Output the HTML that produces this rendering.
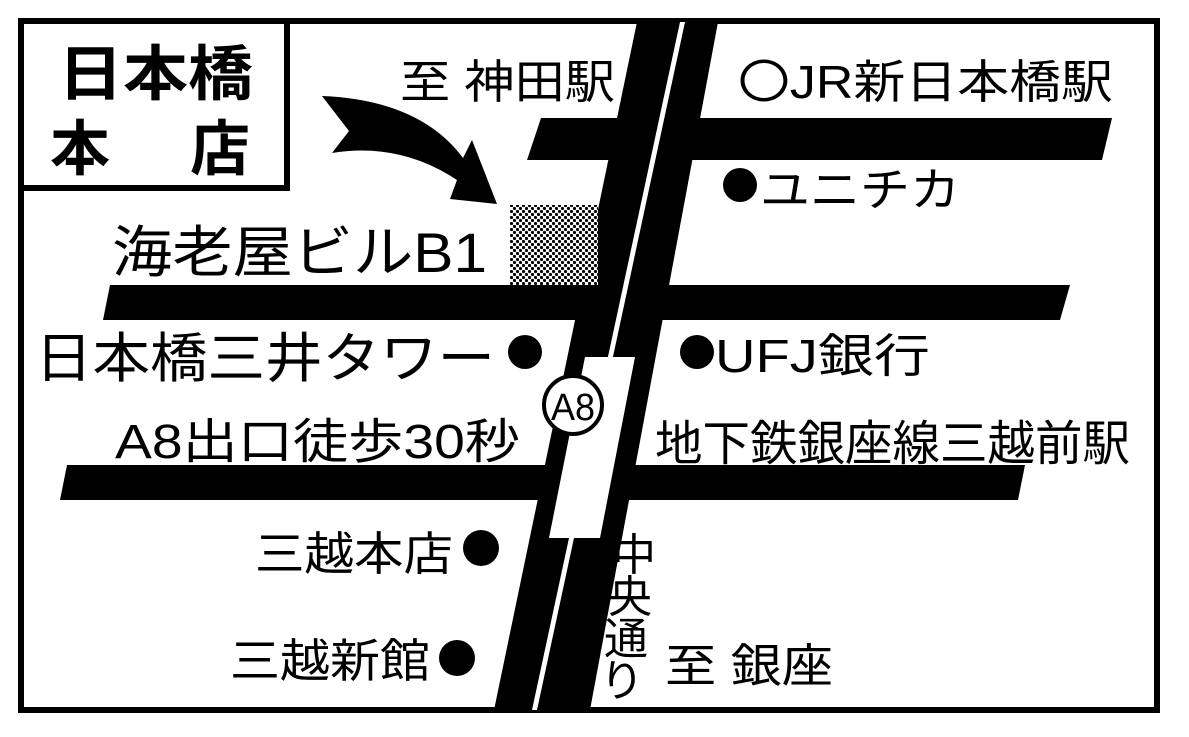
<!DOCTYPE html>
<html><head><meta charset="utf-8"><style>
html,body{margin:0;padding:0;background:#fff;}
svg{display:block;}
text{font-family:"Liberation Sans","Noto Sans CJK JP",sans-serif;fill:#000;}
</style></head><body>
<svg width="1189" height="737" viewBox="0 0 1189 737" xmlns="http://www.w3.org/2000/svg">
<defs>
<pattern id="st" width="6" height="6" patternUnits="userSpaceOnUse">
<rect width="6" height="6" fill="#fff"/>
<circle cx="1.5" cy="1.5" r="1.6" fill="#000"/>
<circle cx="4.5" cy="4.5" r="1.6" fill="#000"/>
</pattern>
</defs>
<rect width="1189" height="737" fill="#fff"/>
<rect x="21" y="21" width="1136" height="689" fill="none" stroke="#000" stroke-width="6"/>
<path d="M21,188 L287,188 L287,21" fill="none" stroke="#000" stroke-width="6"/>
<text x="58" y="95" font-size="60" font-weight="bold" textLength="195" lengthAdjust="spacingAndGlyphs">日本橋</text>
<text x="50" y="170" font-size="60" font-weight="bold">本</text>
<text x="190" y="170" font-size="60" font-weight="bold">店</text>
<path d="M322,96 Q420,100 463,158 L472,140 L497,204 L450,199 L457,180 Q400,142 332,153 L349,131 Z" fill="#000"/>
<polygon points="541,118 700,118 700,160 527,160" fill="#000"/>
<polygon points="650,118 1112,118 1102,160 650,160" fill="#000"/>
<polygon points="110,285 1070,285 1060,320 103,320" fill="#000"/>
<polygon points="67,465 1025,465 1018,500 60,500" fill="#000"/>
<polygon points="637,22 718,22 590,710 494,710" fill="#000"/>
<polygon points="680,22 685,22 537,710 532,710" fill="#fff"/>
<polygon points="585,357 635,357 600,538 549,538" fill="#fff"/>
<circle cx="573" cy="405" r="29" fill="#fff" stroke="#000" stroke-width="4"/>
<text x="573" y="420" font-size="38" text-anchor="middle" textLength="44" lengthAdjust="spacingAndGlyphs">A8</text>
<rect x="510" y="205" width="88" height="80" fill="url(#st)"/>
<text x="400" y="98" font-size="46" textLength="215" lengthAdjust="spacingAndGlyphs">至 神田駅</text>
<text x="738" y="98" font-size="46" textLength="375" lengthAdjust="spacingAndGlyphs">〇JR新日本橋駅</text>
<circle cx="740" cy="185" r="17" fill="#000"/>
<text x="760" y="206" font-size="46" textLength="200" lengthAdjust="spacingAndGlyphs">ユニチカ</text>
<text x="112" y="272" font-size="56" textLength="375" lengthAdjust="spacingAndGlyphs">海老屋ビルB1</text>
<text x="35" y="377" font-size="54" textLength="460" lengthAdjust="spacingAndGlyphs">日本橋三井タワー</text>
<circle cx="525" cy="352" r="17" fill="#000"/>
<circle cx="697" cy="352" r="17" fill="#000"/>
<text x="715" y="372" font-size="46" textLength="215" lengthAdjust="spacingAndGlyphs">UFJ銀行</text>
<text x="115" y="458" font-size="48" textLength="405" lengthAdjust="spacingAndGlyphs">A8出口徒歩30秒</text>
<text x="655" y="460" font-size="48" textLength="475" lengthAdjust="spacingAndGlyphs">地下鉄銀座線三越前駅</text>
<text x="255" y="570" font-size="46" textLength="198" lengthAdjust="spacingAndGlyphs">三越本店</text>
<circle cx="481" cy="548" r="18" fill="#000"/>
<text x="230" y="677" font-size="46" textLength="200" lengthAdjust="spacingAndGlyphs">三越新館</text>
<circle cx="457" cy="658" r="18" fill="#000"/>
<text x="665" y="682" font-size="46" textLength="168" lengthAdjust="spacingAndGlyphs">至 銀座</text>
<text font-size="44">
<tspan x="612" y="570">中</tspan><tspan x="608" y="612">央</tspan><tspan x="604" y="654">通</tspan><tspan x="600" y="696">り</tspan>
</text>
</svg>
</body></html>
